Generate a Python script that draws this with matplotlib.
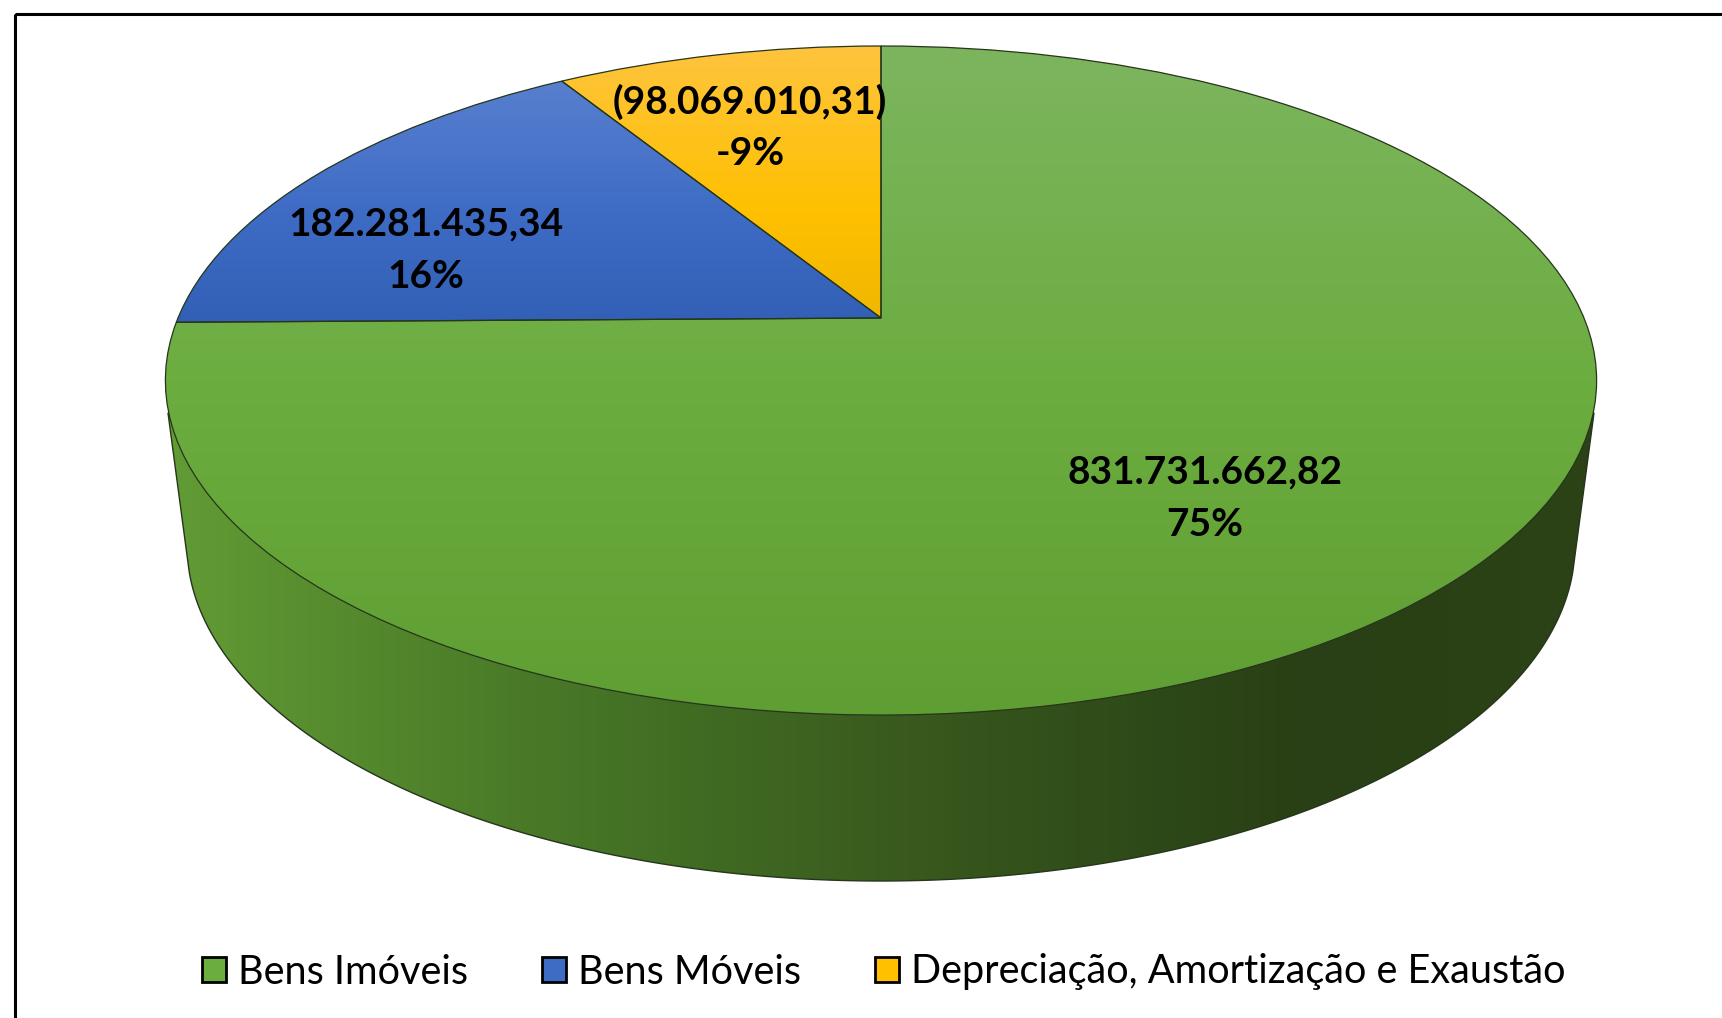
import numpy as np
import matplotlib
matplotlib.use('Agg')
import matplotlib.pyplot as plt
from matplotlib.colors import LinearSegmentedColormap
from matplotlib.patches import Patch, Polygon, Rectangle
from matplotlib.transforms import Transform

# Values as printed on the chart
categories = ['Bens Imóveis', 'Bens Móveis', 'Depreciação, Amortização e Exaustão']
values = [831731662.82, 182281435.34, -98069010.31]
value_labels = ['831.731.662,82', '182.281.435,34', '(98.069.010,31)']
percent_labels = ['75%', '16%', '-9%']
colors = ['#6CAD40', '#3E6CC5', '#FFC000']

# Layout of the tilted pie, in pixels of the picture
CX, APEX_Y = 881, 318
TOP_R, BOTTOM_R, SIDE_R = 272, 397, 703
K = (BOTTOM_R - TOP_R) / (BOTTOM_R + TOP_R)
B = TOP_R * (1 + K)


class Perspective(Transform):
    # tilts the flat unit pie, lines stay straight and the circle becomes an ellipse
    input_dims = 2
    output_dims = 2
    is_separable = False
    has_inverse = False

    def transform_non_affine(self, values):
        values = np.asarray(values)
        w = 1 + K * values[:, 1]
        return np.column_stack([CX + SIDE_R * values[:, 0] / w, APEX_Y - B * values[:, 1] / w])


fig = plt.figure(figsize=(17.22, 10.18), dpi=100)
ax = fig.add_axes([0, 0, 1, 1])

wedges, _ = ax.pie(np.abs(values), colors=colors, startangle=90, counterclock=False)
ax.set_aspect('auto')
ax.set_xlim(0, 1722)
ax.set_ylim(1018, 0)
ax.axis('off')

ax.add_patch(Rectangle((15, 14), 2000, 2000, fill=False, edgecolor='black', linewidth=2.2, zorder=1))

# side wall, darker to the right
theta = np.linspace(np.pi + 0.08, 2 * np.pi - 0.08, 300)
lower_x = CX + 694 * np.cos(theta)
lower_y = 545 - 336 * np.sin(theta)
wall_xy = np.column_stack([np.r_[168, lower_x, 1594], np.r_[413, lower_y, 413]])
wall = Polygon(wall_xy, closed=True, facecolor='none', edgecolor='#26351c', linewidth=1.0, zorder=3)
ax.add_patch(wall)
wall_cmap = LinearSegmentedColormap.from_list('wall', [
    (0.0, '#629C35'), (0.08, '#5A9030'), (0.22, '#4C7D29'), (0.36, '#416D23'),
    (0.52, '#39591E'), (0.66, '#2F4C19'), (0.80, '#293F15'), (1.0, '#2B4317')])
im = ax.imshow(np.linspace(0, 1, 256).reshape(1, -1), cmap=wall_cmap, aspect='auto',
               extent=(168, 1594, 881, 400), zorder=2)
im.set_clip_path(wall)

# top face, each slice with a soft vertical gradient
gradients = [
    ['#7DB55F', '#6CAD40', '#5F9E32'],
    ['#5F84D2', '#3E6CC5', '#2C5AAE'],
    ['#FEC43E', '#FFC000', '#E6B200'],
]
for wedge, grad in zip(wedges, gradients):
    wedge.set_transform(Perspective() + ax.transData)
    wedge.set_facecolor('none')
    wedge.set_edgecolor('#26351c')
    wedge.set_linewidth(0.9)
    wedge.set_zorder(5)
    cmap = LinearSegmentedColormap.from_list('top', grad)
    top = ax.imshow(np.linspace(0, 1, 256).reshape(-1, 1), cmap=cmap, aspect='auto',
                    extent=(150, 1610, 46, 46 + 669 * (0.5 if grad is not gradients[0] else 1)), origin='lower', zorder=4)
    top.set_clip_path(wedge)

ax.set_xlim(0, 1722)
ax.set_ylim(1018, 0)

label_pos = [(1205, 472, 525), (426, 224, 276), (750, 102, 153)]
for (x, y1, y2), val, pct in zip(label_pos, value_labels, percent_labels):
    ax.text(x, y1, val, ha='center', va='center', fontsize=28, fontweight='bold',
            family='Lato', color='black', zorder=6)
    ax.text(x, y2, pct, ha='center', va='center', fontsize=28, fontweight='bold',
            family='Lato', color='black', zorder=6)

handles = [Patch(facecolor=c, edgecolor='black', linewidth=2.0) for c in colors]
ax.legend(handles, categories, loc='center', bbox_to_anchor=(884 / 1722, 1 - 972 / 1018),
          ncol=3, frameon=False, prop={'family': 'Lato', 'size': 28.5},
          handlelength=0.6, handleheight=0.62, handletextpad=0.3, columnspacing=1.88)

fig.savefig('out.png', dpi=100, facecolor='white')
